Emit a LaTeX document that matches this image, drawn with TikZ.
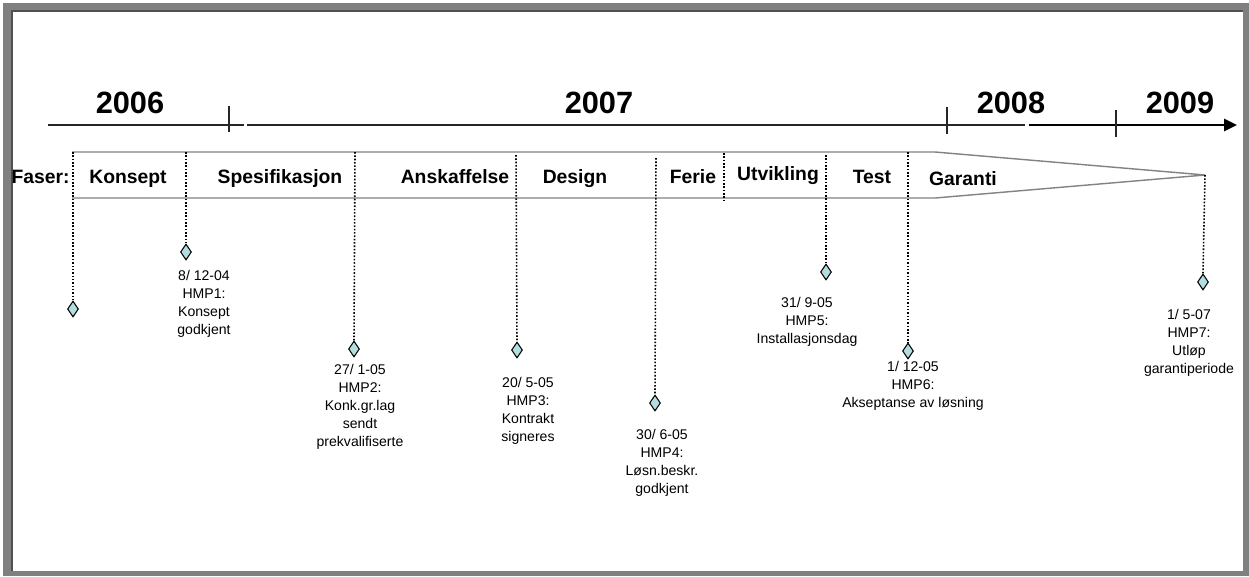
\documentclass[tikz,border=0pt]{standalone}
\usepackage{fontspec}
\setmainfont{Liberation Sans}
\usetikzlibrary{shapes.geometric,arrows.meta}
\definecolor{FrameGray}{RGB}{128,128,128}
\definecolor{FrameDark}{RGB}{80,80,80}
\definecolor{BandGray}{RGB}{130,130,130}
\definecolor{StoneBlue}{RGB}{180,221,224}

\begin{document}
\begin{tikzpicture}[x=0.02cm,y=-0.02cm,
  year/.style={anchor=base,inner sep=0pt,font=\fontsize{17.5}{19}\selectfont\bfseries},
  phase/.style={anchor=base,inner sep=0pt,font=\fontsize{11}{13}\selectfont\bfseries},
  stone/.style={draw,shape=diamond,fill=StoneBlue,line width=0.6pt,inner sep=0pt,minimum width=0.22cm,minimum height=0.32cm},
  hmp/.style={anchor=north,align=center,inner sep=0pt,font=\fontsize{8}{10.2}\selectfont},
  sep/.style={densely dotted,line width=0.9pt},
  axis/.style={line width=0.7pt,draw=black!85}]
                \useasboundingbox (0,0) rectangle (1249,576);
                \fill[FrameGray] (3,3) rectangle (1249,576);
                \fill[white] (12,11) rectangle (1243,571);
                \draw[FrameDark,line width=1pt] (12,571) -- (12,11) -- (1243,11);

                \draw[axis] (48,125) -- (244,125);
                \draw[axis] (247,125) -- (1025,125);
                \draw[line width=1.6pt,-{Triangle[length=0.26cm,width=0.24cm]}] (1029,125) -- (1237,125);
                \draw[axis] (229,106) -- (229,132);
                \draw[axis] (947,107) -- (947,134);
                \draw[axis] (1116,110) -- (1116,137);

                \node[year] (y2006) at (130,113) {2006};
                \node[year] (y2007) at (599,113) {2007};
                \node[year] (y2008) at (1011,113) {2008};
                \node[year] (y2009) at (1180,113) {2009};

                \coordinate (tip) at (1205,175);
                \draw[BandGray,line width=0.8pt] (72,152) -- (935,152) -- (tip) -- (935,198) -- (72,198);

                \node[phase,anchor=base east] (faser) at (70,183) {Faser:};
                \node[phase] (konsept) at (128,183) {Konsept};
                \node[phase] (spes) at (280,183) {Spesifikasjon};
                \node[phase] (ansk) at (455,183) {Anskaffelse};
                \node[phase] (design) at (575,183) {Design};
                \node[phase] (ferie) at (693,183) {Ferie};
                \node[phase] (utv) at (778,180) {Utvikling};
                \node[phase] (test) at (872,183) {Test};
                \node[phase] (garanti) at (963,185) {Garanti};

                \coordinate (s0) at (73,152);
                \coordinate (s1) at (186,152);
                \coordinate (s2) at (355,152);
                \coordinate (s3) at (516,155);
                \coordinate (s4) at (656,158);
                \coordinate (s5) at (724,153);
                \coordinate (s5b) at (724,200);
                \coordinate (s6) at (826,155);
                \coordinate (s7) at (908,152);

                \node[stone] (m0) at (73,309) {};
                \node[stone] (m1) at (186,252) {};
                \node[stone] (m2) at (354,349) {};
                \node[stone] (m3) at (517,350) {};
                \node[stone] (m4) at (655,403) {};
                \node[stone] (m5) at (826,272) {};
                \node[stone] (m6) at (908,351) {};
                \node[stone] (m7) at (1203,282) {};

                \draw[sep] (s0) -- (m0.north);
                \draw[sep] (s1) -- (m1.north);
                \draw[sep] (s2) -- (m2.north);
                \draw[sep] (s3) -- (m3.north);
                \draw[sep] (s4) -- (m4.north);
                \draw[sep] (s5) -- (s5b);
                \draw[sep] (s6) -- (m5.north);
                \draw[sep] (s7) -- (m6.north);
                \draw[sep] (tip) -- (m7.north);

                \node[hmp] (hmp1) at (204,270) {8/ 12-04\\HMP1:\\Konsept\\godkjent};
                \node[hmp] (hmp2) at (360,364) {27/ 1-05\\HMP2:\\Konk.gr.lag\\sendt\\prekvalifiserte};
                \node[hmp] (hmp3) at (528,377) {20/ 5-05\\HMP3:\\Kontrakt\\signeres};
                \node[hmp] (hmp4) at (662,429) {30/ 6-05\\HMP4:\\Løsn.beskr.\\godkjent};
                \node[hmp] (hmp5) at (807,297) {31/ 9-05\\HMP5:\\Installasjonsdag};
                \node[hmp] (hmp6) at (913,361) {1/ 12-05\\HMP6:\\Akseptanse av løsning};
                \node[hmp] (hmp7) at (1189,309) {1/ 5-07\\HMP7:\\Utløp\\garantiperiode};
        \end{tikzpicture}
\end{document}
